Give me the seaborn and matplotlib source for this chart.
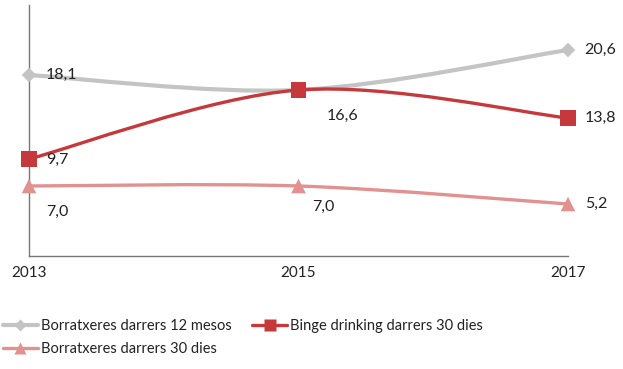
import matplotlib
matplotlib.use("Agg")
import matplotlib.pyplot as plt
from matplotlib.path import Path
from matplotlib.patches import PathPatch
from matplotlib.lines import Line2D
import seaborn as sns
import pandas as pd
import numpy as np

years = [2013, 2015, 2017]
series_names = ["Borratxeres darrers 12 mesos", "Binge drinking darrers 30 dies", "Borratxeres darrers 30 dies"]
borr12 = [18.1, 16.6, 20.6]
binge30 = [9.7, 16.6, 13.8]
borr30 = [7.0, 7.0, 5.2]
labels_borr12 = ["18,1", "", "20,6"]
labels_binge30 = ["9,7", "16,6", "13,8"]
labels_borr30 = ["7,0", "7,0", "5,2"]

colors = ["#c4c4c4", "#c5383b", "#e29191"]
markers = ["D", "s", "^"]
msizes = [55, 120, 110]

sns.set_theme(style="white")
plt.rcParams["font.family"] = ["Lato", "DejaVu Sans"]

df = pd.DataFrame({
    "year": years * 3,
    "value": borr12 + binge30 + borr30,
    "series": sum([[n] * 3 for n in series_names], []),
})

fig = plt.figure(figsize=(6.23, 3.69), dpi=100)
ax = fig.add_axes([29 / 623, 1 - 256 / 369, (568 - 29) / 623, (256 - 5) / 369])


def smooth_path(xs, ys):
    pts = np.column_stack([xs, ys]).astype(float)
    n = len(pts)
    verts = [pts[0]]
    codes = [Path.MOVETO]
    for i in range(n - 1):
        p0 = pts[i - 1] if i > 0 else pts[i]
        p1 = pts[i]
        p2 = pts[i + 1]
        p3 = pts[i + 2] if i + 2 < n else pts[i + 1]
        c1 = p1 + (p2 - p0) / 6
        c2 = p2 - (p3 - p1) / 6
        verts += [c1, c2, p2]
        codes += [Path.CURVE4] * 3
    return Path(verts, codes)


lws = [3.0, 2.4, 2.4]
for name, vals, col, lw in zip(series_names, [borr12, binge30, borr30], colors, lws):
    ax.add_patch(PathPatch(smooth_path(years, vals), facecolor="none", edgecolor=col,
                           lw=lw, transform=ax.transData, zorder=2, capstyle="round"))

for name, col, m, s in zip(series_names, colors, markers, msizes):
    sub = df[df["series"] == name]
    sns.scatterplot(data=sub, x="year", y="value", color=col, marker=m, s=s,
                    edgecolor="none", ax=ax, zorder=3, legend=False, clip_on=False)

fs = 11.5
txt_col = "#222222"
# data labels
for (x, v, lab) in zip(years, borr12, labels_borr12):
    if lab:
        ax.annotate(lab, (x, v), xytext=(12, 0), textcoords="offset points",
                    ha="left", va="center", fontsize=fs, color=txt_col)
ax.annotate(labels_binge30[0], (years[0], binge30[0]), xytext=(12, -1), textcoords="offset points",
            ha="left", va="center", fontsize=fs, color=txt_col)
ax.annotate(labels_binge30[1], (years[1], binge30[1]), xytext=(20, -19), textcoords="offset points",
            ha="left", va="center", fontsize=fs, color=txt_col)
ax.annotate(labels_binge30[2], (years[2], binge30[2]), xytext=(12, 0), textcoords="offset points",
            ha="left", va="center", fontsize=fs, color=txt_col)
ax.annotate(labels_borr30[0], (years[0], borr30[0]), xytext=(12, -19), textcoords="offset points",
            ha="left", va="center", fontsize=fs, color=txt_col)
ax.annotate(labels_borr30[1], (years[1], borr30[1]), xytext=(10, -15), textcoords="offset points",
            ha="left", va="center", fontsize=fs, color=txt_col)
ax.annotate(labels_borr30[2], (years[2], borr30[2]), xytext=(12, 0), textcoords="offset points",
            ha="left", va="center", fontsize=fs, color=txt_col)

ax.set_xlim(2013, 2017)
ax.set_ylim(0, 25.1)
ax.set_xticks(years)
ax.set_xticklabels([str(y) for y in years], fontsize=11, color=txt_col)
ax.set_yticks([])
ax.set_xlabel("")
ax.set_ylabel("")
ax.tick_params(axis="x", length=0, pad=7)
for sp in ["top", "right"]:
    ax.spines[sp].set_visible(False)
for sp in ["left", "bottom"]:
    ax.spines[sp].set_color("#777777")
    ax.spines[sp].set_linewidth(1.0)

handles = [Line2D([0], [0], color=c, lw=l, marker=m, markersize=ms, markeredgecolor="none")
           for c, l, m, ms in zip(colors, lws, markers, [6, 9, 8])]
order = [0, 2, 1]
leg = fig.legend([handles[i] for i in order], [series_names[i] for i in order],
                 loc="upper left", bbox_to_anchor=(0.0, 1 - 316 / 369), ncol=2, frameon=False,
                 fontsize=10.5, handlelength=2.4, handletextpad=0.2, columnspacing=1.4,
                 labelspacing=0.6, borderaxespad=0.0, borderpad=0.2)
for t in leg.get_texts():
    t.set_color(txt_col)

fig.savefig("out.png", dpi=100)
